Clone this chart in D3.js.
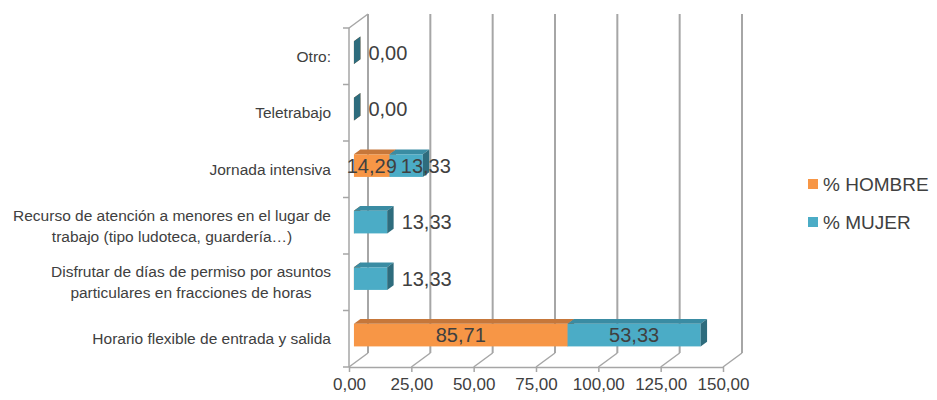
<!DOCTYPE html>
<html>
<head>
<meta charset="utf-8">
<script src="https://cdn.jsdelivr.net/npm/d3@7"></script>
<style>
  html, body { margin: 0; padding: 0; background: #ffffff; }
  svg { display: block; font-family: "Liberation Sans", Arial, sans-serif; }
</style>
</head>
<body>
<svg id="chart" width="937" height="400"></svg>
<script>
// Categories, top to bottom ("\n" marks a line break in the label)
const categories = [
  "Otro:",
  "Teletrabajo",
  "Jornada intensiva",
  "Recurso de atención a menores en el lugar de\ntrabajo (tipo ludoteca, guardería…)",
  "Disfrutar de días de permiso por asuntos\nparticulares en fracciones de horas",
  "Horario flexible de entrada y salida"
];
const hombre = [0, 0, 14.29, 0, 0, 85.71];
const mujer  = [0, 0, 13.33, 13.33, 13.33, 53.33];
const seriesNames = ["% HOMBRE", "% MUJER"];
const tickValues = [0, 25, 50, 75, 100, 125, 150];

const svg = d3.select("#chart");
const fmt = v => d3.format(".2f")(v).replace(".", ",");

// Plot geometry (front plane) and the depth offset of the 3D box
const x = d3.scaleLinear().domain([0, 150]).range([349, 723]);
const y = d3.scaleBand().domain(categories).range([28, 367]);
const DX = 19, DY = -14;
const d0 = 0.26, d1 = 0.6;           // bar depth span within the box
const barH = y.bandwidth() * 0.4;

const gridColor = "#a6a6a6";
const textColor = "#404040";

const palette = {
  hombre: { front: "#F79646", top: "#C6773A", side: "#A8622D" },
  mujer:  { front: "#4BACC6", top: "#3A8CA3", side: "#2E6C7D" }
};

// Back wall gridlines
svg.append("g").selectAll("line").data(tickValues).join("line")
  .attr("x1", d => x(d) + DX).attr("x2", d => x(d) + DX)
  .attr("y1", y.range()[0] + DY).attr("y2", y.range()[1] + DY)
  .attr("stroke", gridColor).attr("stroke-width", 2);

// Floor: diagonals from the front ticks to the back wall
svg.append("g").selectAll("line").data(tickValues).join("line")
  .attr("x1", d => x(d)).attr("y1", y.range()[1])
  .attr("x2", d => x(d) + DX).attr("y2", y.range()[1] + DY)
  .attr("stroke", gridColor).attr("stroke-width", 1.5);

// Left wall: front edge and top diagonal
svg.append("line")
  .attr("x1", x(0)).attr("x2", x(0))
  .attr("y1", y.range()[0]).attr("y2", y.range()[1])
  .attr("stroke", gridColor).attr("stroke-width", 1.5);
svg.append("line")
  .attr("x1", x(0)).attr("y1", y.range()[0])
  .attr("x2", x(0) + DX).attr("y2", y.range()[0] + DY)
  .attr("stroke", gridColor).attr("stroke-width", 1.5);

// Category tick marks at band boundaries
const boundaries = categories.map(c => y(c)).concat([y.range()[1]]);
svg.append("g").selectAll("line").data(boundaries).join("line")
  .attr("x1", x(0) - 6).attr("x2", x(0))
  .attr("y1", d => d).attr("y2", d => d)
  .attr("stroke", gridColor).attr("stroke-width", 1.5);

// Value axis along the front floor edge
const xAxis = svg.append("g")
  .attr("transform", `translate(0,${y.range()[1]})`)
  .call(d3.axisBottom(x).tickValues(tickValues).tickFormat(fmt).tickSize(5).tickPadding(6).tickSizeOuter(0));
xAxis.select(".domain").attr("stroke", gridColor).attr("stroke-width", 1.5);
xAxis.selectAll(".tick line").attr("stroke", gridColor).attr("stroke-width", 1.5);
xAxis.selectAll(".tick text")
  .attr("fill", textColor).attr("font-size", 17)
  .attr("font-family", "Liberation Sans, Arial, sans-serif");

// Category labels: each block right-aligned, lines centred within it
const labelRight = 331;
const lineH = 21;
categories.forEach(cat => {
  const lines = cat.split("\n");
  const g = svg.append("g");
  const cy = y(cat) + y.bandwidth() / 2;
  const texts = lines.map((ln, i) => g.append("text")
    .text(ln)
    .attr("font-size", 15.5)
    .attr("fill", textColor)
    .attr("text-anchor", "middle")
    .attr("dominant-baseline", "central")
    .attr("y", cy + (i - (lines.length - 1) / 2) * lineH));
  const w = d3.max(texts, t => t.node().getComputedTextLength());
  texts.forEach(t => t.attr("x", labelRight - w / 2));
});

// Stacked 3D bars
const rows = categories.map((c, i) => ({
  cat: c,
  segs: [
    { key: "hombre", v0: 0, v1: hombre[i], value: hombre[i] },
    { key: "mujer", v0: hombre[i], v1: hombre[i] + mujer[i], value: mujer[i] }
  ]
}));

const bars = svg.append("g");
rows.forEach(row => {
  const cy = y(row.cat) + y.bandwidth() / 2 + DY * d0;
  const top = cy - barH / 2, bot = cy + barH / 2;
  const ddx = DX * (d1 - d0), ddy = DY * (d1 - d0);
  row.segs.forEach(s => {
    const xl = x(s.v0) + DX * d0, xr = x(s.v1) + DX * d0;
    const col = palette[s.key];
    // front face
    bars.append("rect")
      .attr("x", xl).attr("y", top)
      .attr("width", Math.max(0, xr - xl)).attr("height", barH)
      .attr("fill", col.front);
    // top face
    bars.append("path")
      .attr("d", `M${xl},${top}L${xr},${top}L${xr + ddx},${top + ddy}L${xl + ddx},${top + ddy}Z`)
      .attr("fill", col.top);
    // right side face
    bars.append("path")
      .attr("d", `M${xr},${top}L${xr + ddx},${top + ddy}L${xr + ddx},${bot + ddy}L${xr},${bot}Z`)
      .attr("fill", col.side);
  });
});

// Data labels
const labels = svg.append("g")
  .attr("font-size", 20).attr("fill", textColor);
rows.forEach(row => {
  const cy = y(row.cat) + y.bandwidth() / 2 + DY * d0;
  const endX = x(row.segs[1].v1) + DX * d1;
  const nonZero = row.segs.filter(s => s.value > 0);
  if (nonZero.length < 2) {
    // single series (or none): label the MUJER value just past the bar end
    labels.append("text")
      .text(fmt(row.segs[1].value))
      .attr("x", endX + 8).attr("y", cy)
      .attr("dominant-baseline", "central");
  } else {
    let prevEnd = -Infinity;
    nonZero.forEach(s => {
      const t = labels.append("text")
        .text(fmt(s.value))
        .attr("y", cy)
        .attr("dominant-baseline", "central");
      const w = t.node().getComputedTextLength();
      let cx = (x(s.v0) + x(s.v1)) / 2 + DX * d0;
      if (cx - w / 2 < prevEnd + 4) cx = prevEnd + 4 + w / 2;
      t.attr("x", cx).attr("text-anchor", "middle");
      prevEnd = cx + w / 2;
    });
  }
});

// Legend
const legend = svg.append("g");
seriesNames.forEach((name, i) => {
  const key = i === 0 ? "hombre" : "mujer";
  const ly = 184 + i * 38;
  legend.append("rect")
    .attr("x", 808).attr("y", ly - 5).attr("width", 10).attr("height", 10)
    .attr("fill", palette[key].front);
  legend.append("text")
    .text(name)
    .attr("x", 823).attr("y", ly)
    .attr("dominant-baseline", "central")
    .attr("font-size", 19).attr("fill", textColor);
});
</script>
</body>
</html>
